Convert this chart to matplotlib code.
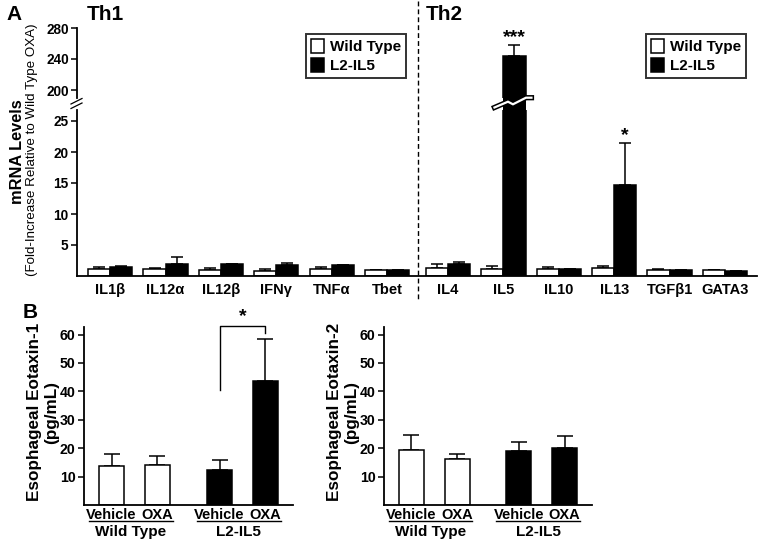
import matplotlib
matplotlib.use('Agg')
import matplotlib.pyplot as plt
from matplotlib.patches import Patch, Rectangle
from matplotlib.lines import Line2D
from matplotlib.transforms import Affine2D, blended_transform_factory

plt.rcParams['font.family'] = ['Liberation Sans', 'DejaVu Sans']
plt.rcParams['font.weight'] = 'bold'

# ---------------- data ----------------
genes = ['IL1β', 'IL12α', 'IL12β', 'IFNγ', 'TNFα', 'Tbet',
         'IL4', 'IL5', 'IL10', 'IL13', 'TGFβ1', 'GATA3']
wt_mean = [1.1, 1.2, 0.97, 0.8, 1.07, 0.97, 1.23, 1.07, 1.07, 1.23, 1.0, 0.9]
wt_err = [0.4, 0.15, 0.28, 0.4, 0.33, 0.05, 0.77, 0.5, 0.38, 0.44, 0.07, 0.12]
l2_mean = [1.5, 2.0, 1.9, 1.8, 1.8, 0.97, 1.94, 244, 1.07, 14.6, 0.97, 0.8]
l2_err = [0.1, 1.0, 0.05, 0.35, 0.05, 0.04, 0.31, 14, 0.04, 6.8, 0.03, 0.05]
series_labels = ['Wild Type', 'L2-IL5']

treatments = ['Vehicle', 'OXA', 'Vehicle', 'OXA']
genotypes = ['Wild Type', 'L2-IL5']
eot1_mean = [13.7, 14.0, 12.3, 43.8]
eot1_err = [4.1, 3.2, 3.4, 14.7]
eot2_mean = [19.3, 16.3, 18.9, 20.0]
eot2_err = [5.2, 1.7, 3.3, 4.2]

# ---------------- figure ----------------
W, H = 762, 546
fig = plt.figure(figsize=(W / 100, H / 100), dpi=100)
PX = Affine2D().scale(1 / W, -1 / H).translate(0, 1) + fig.transFigure


def fax(x0, y0, x1, y1):
    return fig.add_axes([x0 / W, 1 - y1 / H, (x1 - x0) / W, (y1 - y0) / H])


SP_LW = 1.3
EDGE_LW = 1.1

ax_lo = fax(77, 110, 757, 276)
ax_hi = fax(77, 28, 757, 98)

xpos = [i + (0.1 if i >= 6 else 0) for i in range(len(genes))]
bw = 0.4
for ax in (ax_lo, ax_hi):
    ax.bar([x - bw / 2 for x in xpos], wt_mean, bw, color='white', edgecolor='black', linewidth=EDGE_LW, zorder=2)
    ax.bar([x + bw / 2 for x in xpos], l2_mean, bw, color='black', edgecolor='black', linewidth=EDGE_LW, zorder=2)
    ax.errorbar([x - bw / 2 for x in xpos], wt_mean, yerr=[[0] * len(wt_err), wt_err], fmt='none',
                ecolor='black', elinewidth=1.1, capsize=4.5, capthick=1.1, zorder=1)
    ax.errorbar([x + bw / 2 for x in xpos], l2_mean, yerr=[[0] * len(l2_err), l2_err], fmt='none',
                ecolor='black', elinewidth=1.1, capsize=4.5, capthick=1.1, zorder=1)
    ax.set_xlim(-0.6, 11.68)
    for s in ('top', 'right'):
        ax.spines[s].set_visible(False)
    for s in ('left', 'bottom'):
        ax.spines[s].set_linewidth(SP_LW)
    ax.tick_params(axis='y', length=4, width=1.1, labelsize=9.8, pad=2)

ax_lo.set_ylim(0, 166 / 6.2)
ax_lo.set_yticks([5, 10, 15, 20, 25])
ax_lo.set_xticks(xpos)
ax_lo.set_xticklabels(genes, fontsize=10.5)
ax_lo.tick_params(axis='x', length=0, pad=5)

ax_hi.set_ylim(280 - 70 / 0.775, 280)
ax_hi.set_yticks([200, 240, 280])
ax_hi.spines['bottom'].set_visible(False)
ax_hi.set_xticks([])

# significance stars
ax_hi.text(xpos[7] + bw / 2, 257, '***', ha='center', va='bottom', fontsize=14)
ax_lo.text(xpos[9] + bw / 2, 21.2, '*', ha='center', va='bottom', fontsize=14)

# gap filler + break symbol on IL5 bar
cx = ax_lo.transData.transform((xpos[7] + bw / 2, 0))[0]
bar_l = ax_lo.transData.transform((xpos[7], 0))[0]
bar_r = ax_lo.transData.transform((xpos[7] + bw, 0))[0]
fig.add_artist(Rectangle((bar_l, 96), bar_r - bar_l, 16, transform=PX, facecolor='black', edgecolor='none'))
zx = [-20, -6.5, -1.5, 11.5, 17]
zy = [107.5, 101.7, 104.3, 97.7, 97.7]
fig.add_artist(Line2D([cx + v for v in zx], zy, transform=PX, color='black', lw=3.8, solid_joinstyle='miter'))
fig.add_artist(Line2D([cx + v for v in zx], zy, transform=PX, color='white', lw=1.6, solid_joinstyle='miter'))

# axis break marks
fig.add_artist(Line2D([71, 82], [104, 98.5], transform=PX, color='black', lw=0.9))
fig.add_artist(Line2D([71, 82], [108.5, 103], transform=PX, color='black', lw=0.9))

# dashed separator
fig.add_artist(Line2D([418, 418], [1, 300], transform=PX, color='black', lw=1.0, dashes=(3.5, 2.2)))

# legends
handles = [Patch(facecolor='white', edgecolor='black', linewidth=1.1),
           Patch(facecolor='black', edgecolor='black', linewidth=1.1)]
legs = []
for lx in (306, 646):
    leg = ax_hi.legend(handles, series_labels, loc='upper left', bbox_to_anchor=(lx / W, 1 - 34 / H),
                       bbox_transform=fig.transFigure, frameon=True, fancybox=False, borderaxespad=0,
                       handlelength=0.85, handleheight=1.0, handletextpad=0.4, borderpad=0.33,
                       labelspacing=0.25, prop={'weight': 'bold', 'size': 11})
    leg.get_frame().set_edgecolor('black')
    leg.get_frame().set_linewidth(1.4)
    legs.append(leg)
ax_hi.add_artist(legs[0])

# panel text
fig.text(6 / W, 1 - 15 / H, 'A', fontsize=15, va='center', ha='left')
fig.text(87 / W, 1 - 15 / H, 'Th1', fontsize=15, va='center', ha='left')
fig.text(426 / W, 1 - 15 / H, 'Th2', fontsize=15, va='center', ha='left')
fig.text(17.5 / W, 1 - 152 / H, 'mRNA Levels', fontsize=11.8, rotation=90, ha='center', va='center')
fig.text(32 / W, 1 - 150 / H, '(Fold-Increase Relative to Wild Type OXA)', fontsize=9.6, fontweight='normal',
         rotation=90, ha='center', va='center')

# ---------------- panel B ----------------
bpos = [0, 1, 2.35, 3.35]
bcol = ['white', 'white', 'black', 'black']
axB1 = fax(84, 327, 293, 505)
axB2 = fax(384, 327, 592, 505)
for ax, m, e in ((axB1, eot1_mean, eot1_err), (axB2, eot2_mean, eot2_err)):
    ax.bar(bpos, m, 0.55, color=bcol, edgecolor='black', linewidth=EDGE_LW, zorder=2)
    ax.errorbar(bpos, m, yerr=[[0] * len(e), e], fmt='none', ecolor='black', elinewidth=1.1,
                capsize=5.5, capthick=1.1, zorder=1)
    ax.set_ylim(0, 178 / 2.84)
    ax.set_xlim(-0.6, 3.95)
    ax.set_yticks([10, 20, 30, 40, 50, 60])
    ax.set_xticks([])
    for s in ('top', 'right'):
        ax.spines[s].set_visible(False)
    for s in ('left', 'bottom'):
        ax.spines[s].set_linewidth(SP_LW)
    ax.tick_params(axis='y', length=4, width=1.1, labelsize=10.2, pad=2)
    tr = blended_transform_factory(ax.transData, ax.transAxes)
    for p, t in zip(bpos, treatments):
        ax.text(p, -0.055, t, transform=tr, ha='center', va='center', fontsize=10.5)
    for gc, g in zip((0.5, 2.85), genotypes):
        ax.plot([gc - 0.99, gc + 0.83], [-0.09, -0.09], transform=tr, color='black', lw=1.0, clip_on=False)
        ax.text(gc - 0.08, -0.152, g, transform=tr, ha='center', va='center', fontsize=11)

# bracket
axB1.plot([bpos[2], bpos[2], bpos[3], bpos[3]], [40.4, 63.0, 63.0, 60.7], color='black', lw=1.0, clip_on=False)
axB1.text((bpos[2] + bpos[3]) / 2, 63.3, '*', ha='center', va='bottom', fontsize=14)

fig.text(30 / W, 1 - 312 / H, 'B', fontsize=15, va='center', ha='center')
fig.text(35 / W, 1 - 412 / H, 'Esophageal Eotaxin-1', fontsize=12.3, rotation=90, ha='center', va='center')
fig.text(52 / W, 1 - 412 / H, '(pg/mL)', fontsize=12.3, rotation=90, ha='center', va='center')
fig.text(335 / W, 1 - 412 / H, 'Esophageal Eotaxin-2', fontsize=12.3, rotation=90, ha='center', va='center')
fig.text(352 / W, 1 - 412 / H, '(pg/mL)', fontsize=12.3, rotation=90, ha='center', va='center')

fig.savefig('out.png', dpi=100)
